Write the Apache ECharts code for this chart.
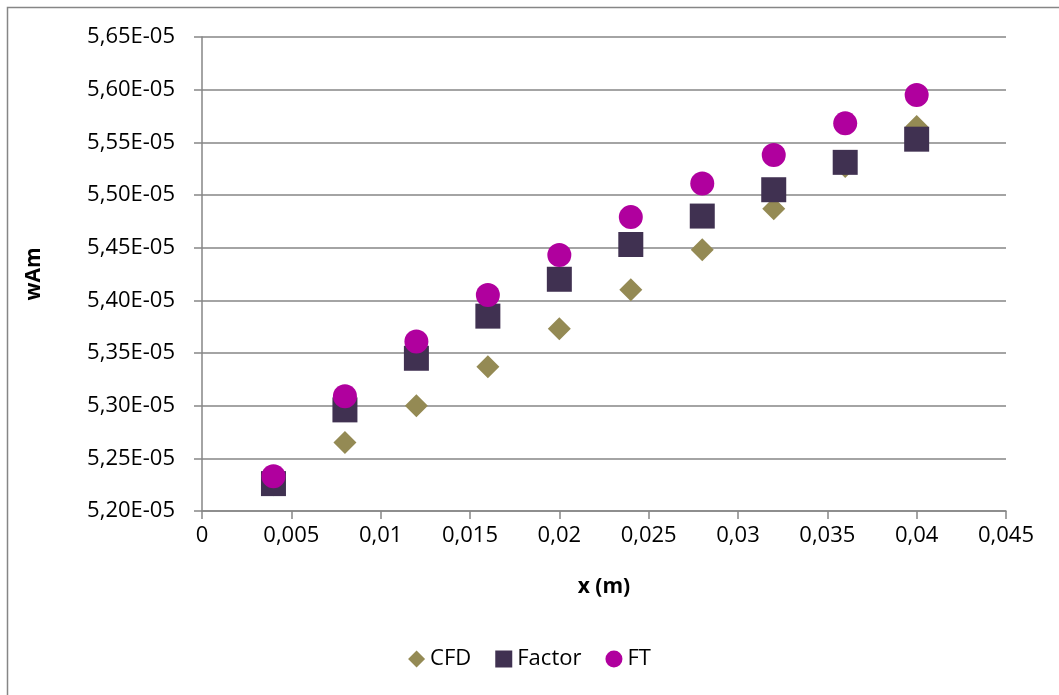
<!DOCTYPE html>
<html>
<head>
<meta charset="utf-8">
<script src="https://cdn.jsdelivr.net/npm/echarts@6/dist/echarts.min.js"></script>
<style>
  html, body { margin: 0; padding: 0; background: #fff; }
  #chart { width: 1059px; height: 695px; }
</style>
</head>
<body>
<div id="chart"></div>
<script>
// Position along the channel (m)
const xPositions = [0.004, 0.008, 0.012, 0.016, 0.020, 0.024, 0.028, 0.032, 0.036, 0.040];

// wAm values per method
const cfdValues    = [5.225e-5, 5.265e-5, 5.300e-5, 5.337e-5, 5.373e-5, 5.410e-5, 5.448e-5, 5.487e-5, 5.527e-5, 5.565e-5];
const factorValues = [5.226e-5, 5.296e-5, 5.345e-5, 5.385e-5, 5.420e-5, 5.453e-5, 5.480e-5, 5.505e-5, 5.531e-5, 5.553e-5];
const ftValues     = [5.233e-5, 5.309e-5, 5.361e-5, 5.405e-5, 5.443e-5, 5.479e-5, 5.511e-5, 5.538e-5, 5.568e-5, 5.595e-5];

const seriesNames = ['CFD', 'Factor', 'FT'];

const FONT = '"Open Sans", Lato, sans-serif';
const AXIS_GREY = '#868686';

function pairs(values) {
  return xPositions.map((x, i) => [x, values[i]]);
}

const chart = echarts.init(document.getElementById('chart'), null, { renderer: 'canvas' });

chart.setOption({
  animation: false,
  backgroundColor: '#ffffff',
  graphic: [{
    type: 'rect',
    shape: { x: 7.5, y: 7.5, width: 1200, height: 800 },
    style: { fill: 'none', stroke: AXIS_GREY, lineWidth: 1.5 },
    silent: true
  }],
  grid: { left: 202, right: 53, top: 37, bottom: 184 },
  xAxis: {
    type: 'value',
    min: 0,
    max: 0.045,
    interval: 0.005,
    name: 'x (m)',
    nameLocation: 'middle',
    nameGap: 66,
    nameTextStyle: { fontFamily: FONT, fontSize: 21, fontWeight: 'bold', color: '#000' },
    axisLine: { show: true, onZero: false, lineStyle: { color: AXIS_GREY, width: 1.5 } },
    axisTick: { show: true, inside: false, length: 8, lineStyle: { color: AXIS_GREY, width: 1.5 } },
    splitLine: { show: false },
    axisLabel: {
      fontFamily: FONT, fontSize: 22, color: '#000', margin: 14,
      formatter: v => String(Number(v.toFixed(3))).replace('.', ',')
    }
  },
  yAxis: {
    type: 'value',
    min: 5.20e-5,
    max: 5.65e-5,
    interval: 0.05e-5,
    name: 'wAm',
    nameLocation: 'middle',
    nameGap: 157,
    nameRotate: 90,
    nameTextStyle: { fontFamily: FONT, fontSize: 21, fontWeight: 'bold', color: '#000' },
    axisLine: { show: true, lineStyle: { color: AXIS_GREY, width: 1.5 } },
    axisTick: { show: true, inside: false, length: 8, lineStyle: { color: AXIS_GREY, width: 1.5 } },
    splitLine: { show: true, lineStyle: { color: AXIS_GREY, width: 1.5 } },
    axisLabel: {
      fontFamily: FONT, fontSize: 22, color: '#000', margin: 27,
      formatter: v => (v * 1e5).toFixed(2).replace('.', ',') + 'E-05'
    }
  },
  legend: {
    bottom: 20,
    left: 'center',
    itemGap: 24,
    itemWidth: 17,
    itemHeight: 17,
    textStyle: { fontFamily: FONT, fontSize: 22, color: '#000' },
    data: [
      { name: 'CFD', icon: 'diamond' },
      { name: 'Factor', icon: 'rect' },
      { name: 'FT', icon: 'circle' }
    ]
  },
  series: [
    {
      name: seriesNames[0], type: 'scatter', symbol: 'diamond', symbolSize: 23,
      itemStyle: { color: '#948A54', opacity: 1 }, data: pairs(cfdValues), z: 2
    },
    {
      name: seriesNames[1], type: 'scatter', symbol: 'rect', symbolSize: 25,
      itemStyle: { color: '#403151', opacity: 1 }, data: pairs(factorValues), z: 3
    },
    {
      name: seriesNames[2], type: 'scatter', symbol: 'circle', symbolSize: 24,
      itemStyle: { color: '#B0009E', opacity: 1 }, data: pairs(ftValues), z: 4
    }
  ]
});
</script>
</body>
</html>
